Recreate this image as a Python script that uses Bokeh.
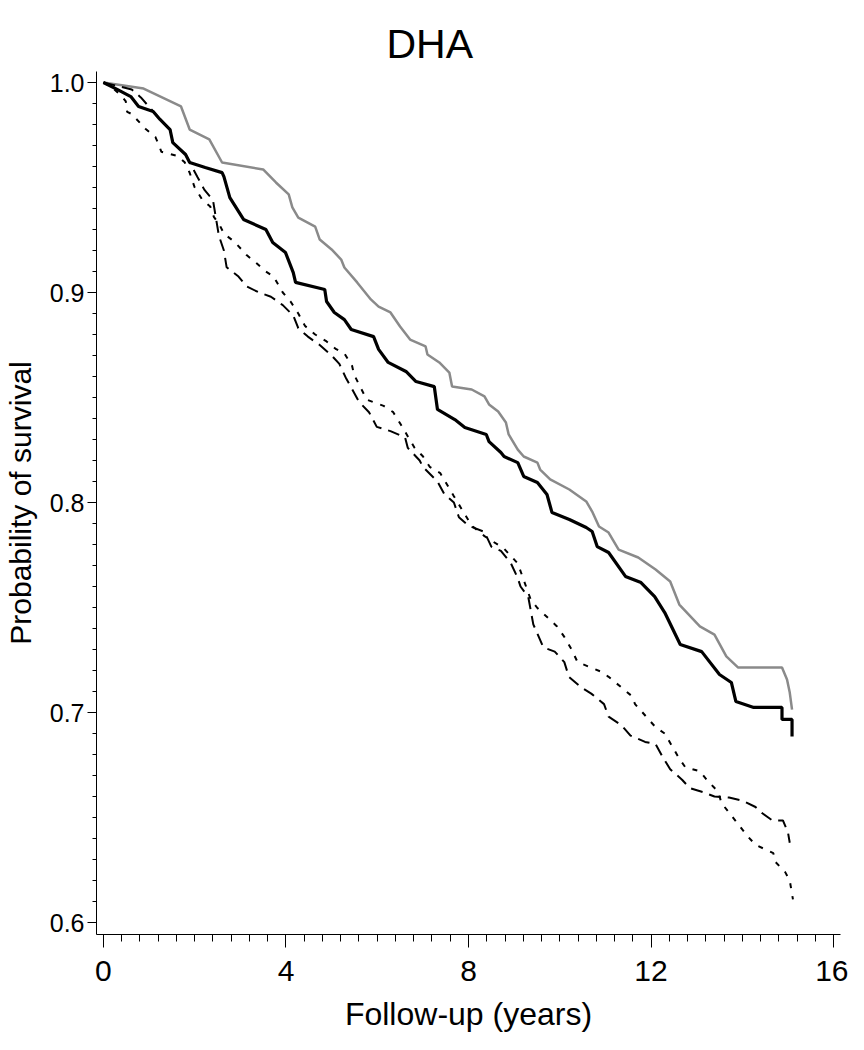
from bokeh.plotting import figure
from bokeh.models import FixedTicker, PrintfTickFormatter, Range1d
from bokeh.embed import file_html
from bokeh.resources import INLINE

title_text = "DHA"
x_label = "Follow-up (years)"
y_label = "Probability of survival"
x_ticks = [0, 4, 8, 12, 16]
y_ticks = [0.6, 0.7, 0.8, 0.9, 1.0]

# gray solid curve
gray_t = [0, 0.88, 1.70, 1.89, 2.32, 2.60, 3.50, 3.78, 4.06, 4.14, 4.27, 4.64, 4.74, 5.00, 5.21, 5.28,
          5.56, 5.86, 6.03, 6.29, 6.50, 6.72, 7.06, 7.10, 7.36, 7.58, 7.64, 8.07, 8.35, 8.45, 8.65,
          8.82, 8.88, 9.08, 9.21, 9.51, 9.57, 9.79, 10.21, 10.58, 10.71, 10.86, 11.07, 11.29, 11.72,
          12.10, 12.42, 12.62, 13.07, 13.39, 13.65, 13.91, 14.87, 14.98, 15.04, 15.09]
gray_s = [1.0, .9971, .9886, .9776, .9729, .9619, .9586, .9524, .9467, .9405, .9357, .9314, .9252, .9205,
          .9157, .9119, .9048, .8967, .8933, .8905, .8838, .8776, .8743, .8705, .8667, .8619, .8552,
          .8538, .8505, .8467, .8433, .8381, .8324, .8252, .8219, .8190, .8157, .8110, .8062, .8005,
          .7957, .7886, .7857, .7776, .7738, .7681, .7624, .7514, .7410, .7371, .7267, .7214, .7214,
          .7157, .7095, .7014]

# black thick solid curve
black_t = [0, 0.30, 0.60, 0.77, 1.09, 1.24, 1.46, 1.52, 1.80, 1.89, 2.23, 2.60, 2.64, 2.77, 3.07, 3.56,
           3.71, 3.99, 4.16, 4.21, 4.85, 4.89, 5.06, 5.28, 5.43, 5.92, 6.03, 6.24, 6.63, 6.85, 7.25,
           7.32, 7.70, 7.92, 8.39, 8.45, 8.71, 8.78, 9.08, 9.21, 9.51, 9.72, 9.83, 10.21, 10.58, 10.71,
           10.82, 11.07, 11.44, 11.78, 12.08, 12.30, 12.64, 13.11, 13.50, 13.76, 13.86, 14.25, 14.87,
           14.87, 15.09, 15.09]
black_s = [1.0, .9967, .9933, .9886, .9862, .9824, .9776, .9714, .9657, .9619, .9595, .9571, .9552, .9452,
           .9348, .9300, .9238, .9190, .9095, .9048, .9014, .8957, .8905, .8871, .8824, .8790, .8729,
           .8667, .8624, .8576, .8552, .8443, .8395, .8357, .8324, .8290, .8238, .8219, .8190, .8124,
           .8095, .8038, .7952, .7919, .7881, .7862, .7790, .7762, .7648, .7619, .7552, .7476, .7324,
           .7290, .7181, .7143, .7052, .7024, .7024, .6967, .6967, .6886]

# long-dash curve
ldash_t = [0, 0.62, 0.82, 1.09, 1.24, 1.46, 1.52, 1.80, 1.89, 2.06, 2.21, 2.40, 2.53, 2.64, 2.70, 2.96,
           3.13, 3.41, 3.67, 3.93, 4.16, 4.27, 4.48, 4.74, 5.00, 5.17, 5.32, 5.45, 5.60, 5.82, 5.99,
           6.29, 6.61, 6.67, 6.93, 7.00, 7.32, 7.47, 7.68, 7.79, 8.00, 8.35, 8.50, 8.71, 8.93, 9.08,
           9.14, 9.31, 9.42, 9.64, 9.89, 10.10, 10.20, 10.47, 10.69, 10.97, 11.07, 11.35, 11.55, 11.87,
           12.10, 12.25, 12.42, 12.68, 12.85, 13.15, 13.39, 13.71, 14.01, 14.29, 14.44, 14.66, 14.89,
           15.00, 15.04]
ldash_s = [1.0, .9967, .9929, .9862, .9824, .9776, .9714, .9657, .9619, .9550, .9490, .9440, .9270, .9200,
           .9120, .9076, .9030, .9000, .8980, .8940, .8890, .8830, .8790, .8750, .8700, .8660, .8590,
           .8540, .8480, .8430, .8360, .8340, .8310, .8260, .8200, .8170, .8100, .8040, .8000, .7930,
           .7890, .7860, .7790, .7770, .7710, .7640, .7600, .7550, .7420, .7310, .7290, .7240, .7170,
           .7120, .7090, .7040, .6980, .6940, .6890, .6860, .6850, .6790, .6730, .6680, .6640, .6620,
           .6600, .6595, .6580, .6550, .6520, .6486, .6486, .6430, .6380]

# short-dash curve
sdash_t = [0, 0.20, 0.41, 0.49, 0.52, 0.62, 0.92, 1.03, 1.14, 1.20, 1.27, 1.63, 1.78, 1.89, 2.00, 2.17,
           2.34, 2.42, 2.55, 2.64, 2.88, 3.13, 3.35, 3.56, 3.73, 3.93, 4.10, 4.27, 4.42, 4.64, 4.89,
           5.10, 5.28, 5.45, 5.49, 5.77, 6.14, 6.35, 6.52, 6.82, 7.00, 7.15, 7.38, 7.68, 8.07, 8.35,
           8.78, 9.08, 9.36, 9.50, 9.94, 10.10, 10.26, 10.39, 10.90, 11.07, 11.57, 11.65, 12.10, 12.30,
           12.62, 12.75, 13.07, 13.22, 13.48, 13.54, 14.12, 14.29, 14.68, 14.72, 14.94, 15.04, 15.11]
sdash_s = [1.0, .9975, .9933, .9910, .9860, .9850, .9780, .9760, .9740, .9710, .9670, .9650, .9620, .9570,
           .9500, .9440, .9410, .9360, .9320, .9280, .9240, .9180, .9140, .9100, .9076, .9000, .8957,
           .8900, .8840, .8800, .8767, .8730, .8710, .8650, .8610, .8490, .8460, .8430, .8370, .8260,
           .8220, .8170, .8140, .8030, .7890, .7840, .7780, .7710, .7540, .7500, .7410, .7360, .7300,
           .7240, .7195, .7170, .7080, .7040, .6930, .6900, .6780, .6740, .6720, .6680, .6620, .6570,
           .6410, .6370, .6330, .6290, .6240, .6200, .6110]

SANS = "Liberation Sans"

p = figure(width=848, height=1034, output_backend="svg", toolbar_location=None,
           x_range=Range1d(-0.152, 16.152), y_range=Range1d(0.59429, 1.00524),
           min_border_left=89, min_border_right=8, min_border_top=71, min_border_bottom=100)
p.outline_line_color = None
p.xgrid.grid_line_color = None
p.ygrid.grid_line_color = None
p.background_fill_color = "white"
p.border_fill_color = "white"

p.title.text = title_text
p.title.align = "left"
p.title.offset = 290
p.title.text_font = SANS
p.title.text_font_size = "41px"
p.title.text_font_style = "normal"
p.title.text_color = "black"

p.line(gray_t, gray_s, line_color="#8a8a8a", line_width=2.5)
p.line(black_t, black_s, line_color="black", line_width=3.2)
p.line(ldash_t, ldash_s, line_color="black", line_width=2, line_dash="12 7")
p.line(sdash_t, sdash_s, line_color="black", line_width=2, line_dash="5 8")

x_minor = [i * 0.4 for i in range(41)]
y_minor = [0.6 + i * 0.01 for i in range(41)]

xa = p.xaxis[0]
xa.ticker = FixedTicker(ticks=x_ticks, minor_ticks=x_minor)
xa.axis_label = x_label
xa.axis_label_text_font = SANS
xa.axis_label_text_font_size = "32px"
xa.axis_label_text_font_style = "normal"
xa.axis_label_text_color = "black"
xa.axis_label_standoff = 12
xa.major_label_text_font = SANS
xa.major_label_text_font_size = "30px"
xa.major_label_text_color = "black"
xa.major_label_standoff = 13
xa.major_tick_out = 13
xa.major_tick_in = 0
xa.minor_tick_out = 7
xa.minor_tick_in = 0
xa.axis_line_color = "black"

ya = p.yaxis[0]
ya.ticker = FixedTicker(ticks=y_ticks, minor_ticks=y_minor)
ya.formatter = PrintfTickFormatter(format="%.1f")
ya.axis_label = y_label
ya.axis_label_text_font = SANS
ya.axis_label_text_font_size = "30px"
ya.axis_label_text_font_style = "normal"
ya.axis_label_text_color = "black"
ya.axis_label_standoff = 10
ya.major_label_text_font = SANS
ya.major_label_text_font_size = "25px"
ya.major_label_text_color = "black"
ya.major_label_standoff = 3
ya.major_tick_out = 9
ya.major_tick_in = 0
ya.minor_tick_out = 4
ya.minor_tick_in = 0
ya.axis_line_color = "black"

open("out.html", "w").write(file_html(p, INLINE))
